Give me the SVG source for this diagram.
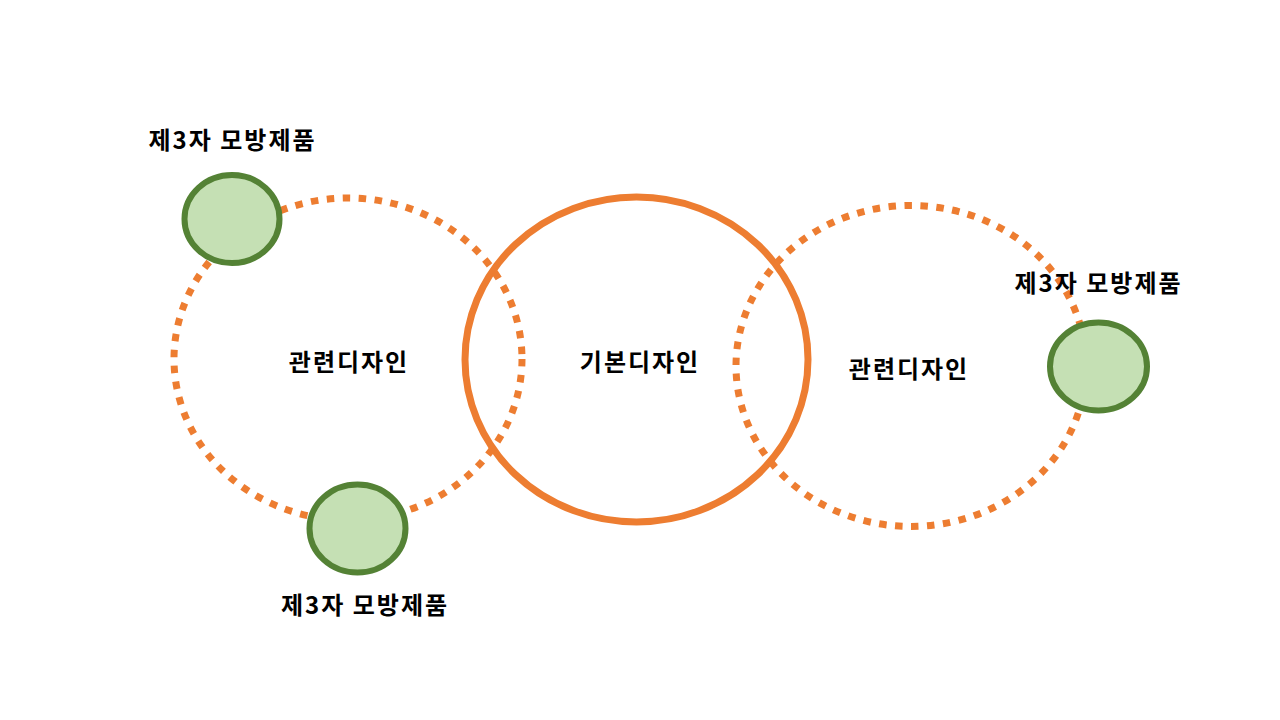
<svg xmlns="http://www.w3.org/2000/svg" width="1280" height="720" viewBox="0 0 1280 720">
<style>
.solid{fill:none;stroke:#ED7D31;stroke-width:7}
.dot{fill:none;stroke:#ED7D31;stroke-width:7;stroke-dasharray:7.5 8.5}
.prod{fill:#C5E0B4;stroke:#548235;stroke-width:6}
.t{font-family:"Malgun Gothic","Noto Sans CJK KR",sans-serif;font-weight:bold;font-size:24px;letter-spacing:2px;fill:#000;text-anchor:middle}
</style>
<rect width="1280" height="720" fill="#fff"/>
<g id="connectors">
<ellipse id="basic" class="solid" cx="636.5" cy="359.5" rx="171.5" ry="162.5"/>
<ellipse id="related-left" class="dot" cx="348" cy="359" rx="174" ry="161"/>
<ellipse id="related-right" class="dot" cx="911" cy="366" rx="175" ry="160.5"/>
</g>
<g id="node-basic"><text class="t" x="640" y="371">기본디자인</text></g>
<g id="node-related-left"><text class="t" x="349" y="371">관련디자인</text></g>
<g id="node-related-right"><text class="t" x="909" y="378">관련디자인</text></g>
<g id="node-copy-topleft">
<ellipse class="prod" cx="232" cy="219" rx="47.5" ry="44"/>
<text class="t" x="232.5" y="149">제3자 모방제품</text>
</g>
<g id="node-copy-bottom">
<ellipse class="prod" cx="357.5" cy="528.5" rx="48" ry="44"/>
<text class="t" x="365" y="614">제3자 모방제품</text>
</g>
<g id="node-copy-right">
<ellipse class="prod" cx="1098.5" cy="366.5" rx="48.5" ry="44"/>
<text class="t" x="1098.5" y="292">제3자 모방제품</text>
</g>
</svg>
